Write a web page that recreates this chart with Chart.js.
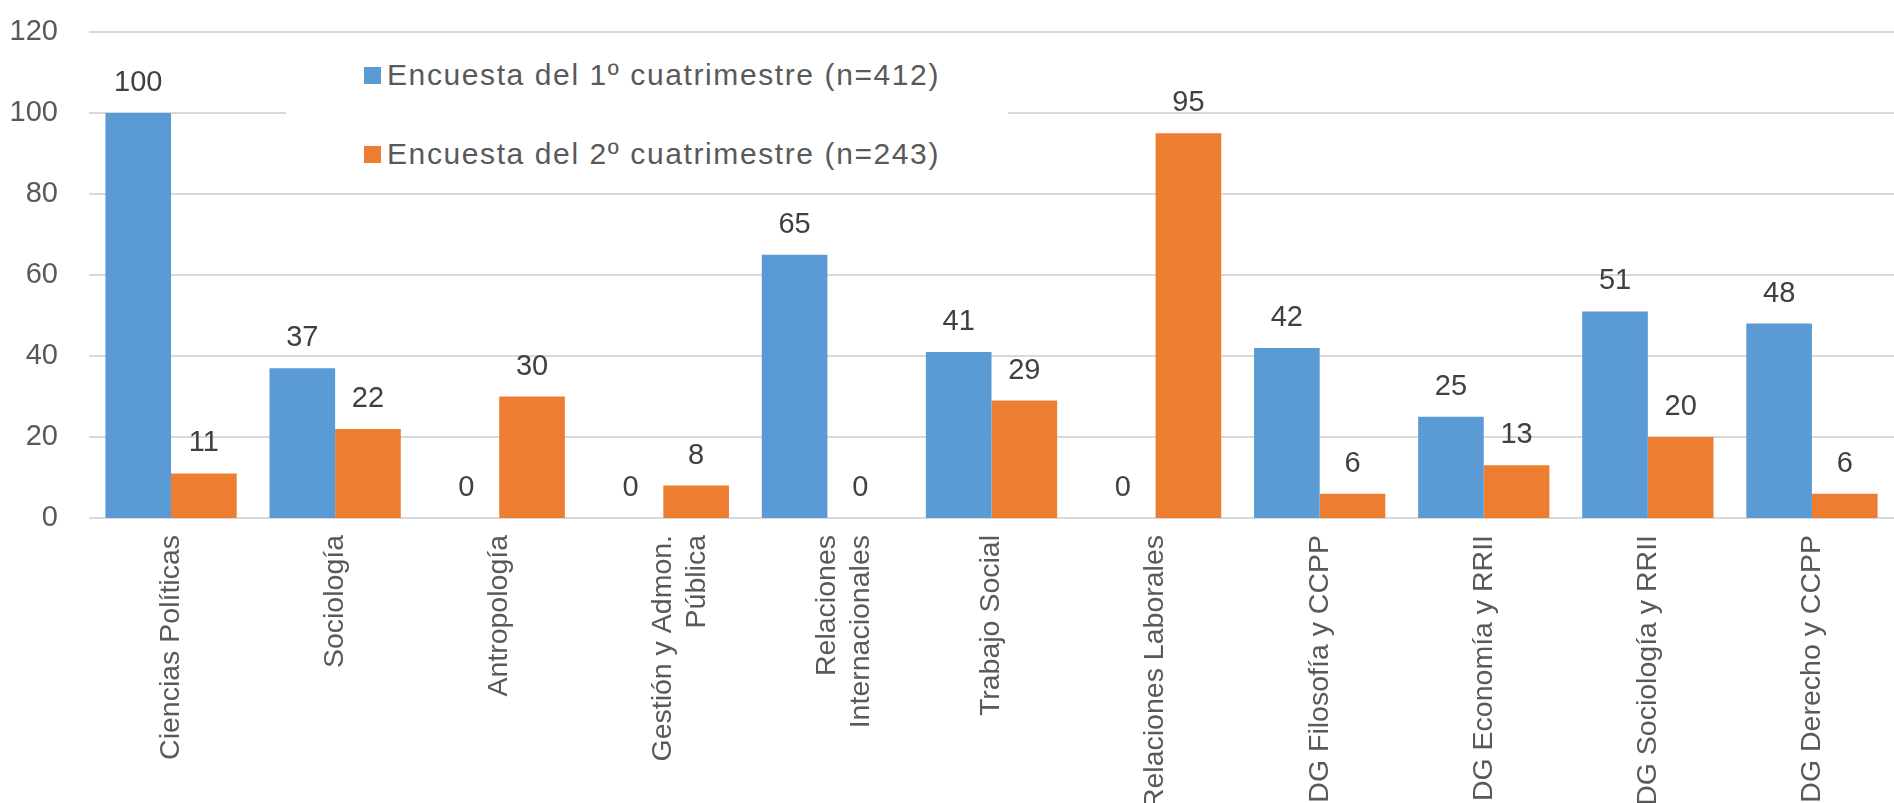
<!DOCTYPE html>
<html>
<head>
<meta charset="utf-8">
<script src="https://cdn.jsdelivr.net/npm/chart.js@4/dist/chart.umd.min.js"></script>
<style>
  body { margin: 0; background: #fff; }
  #wrap { position: relative; width: 1894px; height: 803px; }
  #legend { position: absolute; left: 286px; top: 40px; width: 722px; height: 145px; background: #fff;
    font-family: 'Liberation Sans', Arial, sans-serif; font-size: 30px; color: #595959; letter-spacing: 1.6px; }
  .item { position: absolute; left: 78px; white-space: nowrap; line-height: 30px; }
  .item span { display: inline-block; width: 17px; height: 17px; margin-right: 6px; vertical-align: 1px; }
</style>
</head>
<body>
<div id="wrap">
  <canvas id="myChart" width="1894" height="803"></canvas>
  <div id="legend">
    <div class="item" style="top:20px"><span style="background:#5B9BD5"></span>Encuesta del 1º cuatrimestre (n=412)</div>
    <div class="item" style="top:99px"><span style="background:#ED7D31"></span>Encuesta del 2º cuatrimestre (n=243)</div>
  </div>
</div>
<script>
'use strict'
var carreras = ['Ciencias Políticas', 'Sociología', 'Antropología', ['Gestión y Admon.', 'Pública'],
    ['Relaciones', 'Internacionales'], 'Trabajo Social', 'Relaciones Laborales', 'DG Filosofía y CCPP',
    'DG Economía y RRII', 'DG Sociología y RRII', 'DG Derecho y CCPP'];
var primerCuatri = [100, 37, 0, 0, 65, 41, 0, 42, 25, 51, 48];
var segundoCuatri = [11, 22, 30, 8, 0, 29, 95, 6, 13, 20, 6];
var yTicks = [0, 20, 40, 60, 80, 100, 120];

// lineas horizontales solo dentro del area del grafico
var rejilla = {
    id: 'rejilla',
    beforeDatasetsDraw: function (chart) {
        var ctx = chart.ctx, area = chart.chartArea, y = chart.scales.y;
        ctx.save();
        ctx.strokeStyle = '#d9d9d9';
        ctx.lineWidth = 2;
        y.ticks.forEach(function (t) {
            var py = Math.round(y.getPixelForValue(t.value));
            ctx.beginPath();
            ctx.moveTo(area.left, py);
            ctx.lineTo(area.right, py);
            ctx.stroke();
        });
        ctx.restore();
    }
};

// etiquetas con el valor encima de cada barra
var valores = {
    id: 'valores',
    afterDatasetsDraw: function (chart) {
        var ctx = chart.ctx;
        ctx.save();
        ctx.font = '29px "Liberation Sans", Arial, sans-serif';
        ctx.fillStyle = '#404040';
        ctx.textAlign = 'center';
        ctx.textBaseline = 'alphabetic';
        chart.data.datasets.forEach(function (ds, i) {
            chart.getDatasetMeta(i).data.forEach(function (bar, j) {
                ctx.fillText(ds.data[j], bar.x, bar.y - 22);
            });
        });
        ctx.restore();
    }
};

var ctx = document.getElementById('myChart').getContext('2d');
var chart = new Chart(ctx, {
    type: 'bar',
    data: {
        labels: carreras,
        datasets: [{
            label: 'Encuesta del 1º cuatrimestre (n=412)',
            backgroundColor: '#5B9BD5',
            data: primerCuatri
        }, {
            label: 'Encuesta del 2º cuatrimestre (n=243)',
            backgroundColor: '#ED7D31',
            data: segundoCuatri
        }]
    },
    options: {
        responsive: false,
        animation: false,
        devicePixelRatio: 1,
        layout: { padding: { top: 32, right: 0, left: 0, bottom: 0 } },
        datasets: { bar: { categoryPercentage: 0.8, barPercentage: 1 } },
        plugins: { legend: { display: false }, tooltip: { enabled: false } },
        scales: {
            x: {
                grid: { display: false, drawTicks: false },
                border: { display: false },
                ticks: {
                    autoSkip: false, minRotation: 90, maxRotation: 90, padding: 17,
                    color: '#595959',
                    font: { family: "'Liberation Sans', Arial", size: 28.5 }
                },
                afterFit: function (s) { s.height = 285; }
            },
            y: {
                min: 0, max: 120,
                afterBuildTicks: function (s) { s.ticks = yTicks.map(function (v) { return { value: v }; }); },
                grid: { display: false, drawTicks: false },
                border: { display: false },
                ticks: {
                    padding: 31, color: '#595959',
                    font: { family: "'Liberation Sans', Arial", size: 29 }
                },
                afterFit: function (s) { s.width = 89; s.paddingTop = 0; s.paddingBottom = 0; }
            }
        }
    },
    plugins: [rejilla, valores]
});
</script>
</body>
</html>
